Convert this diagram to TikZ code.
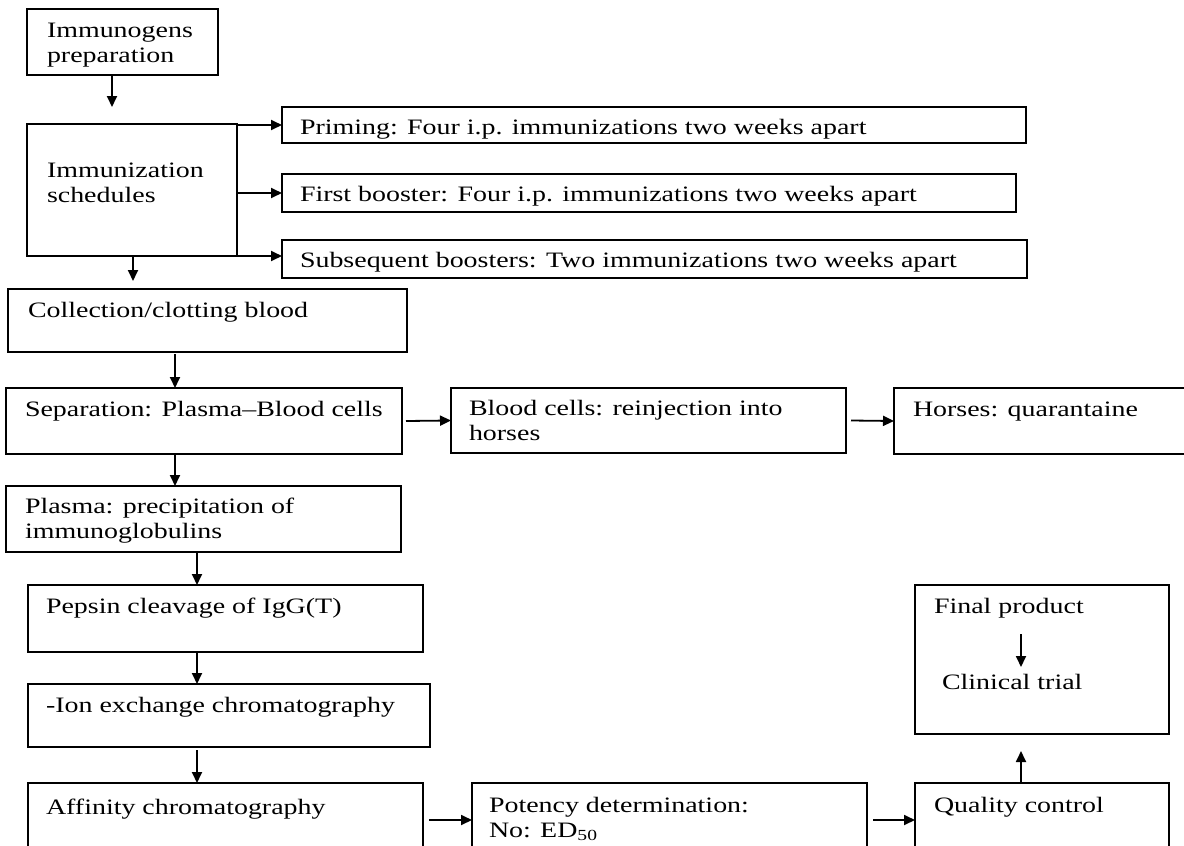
\documentclass[tikz,border=0pt]{standalone}
\usepackage{fontspec}
\setmainfont{Liberation Serif}[FakeStretch=1.27]
\usetikzlibrary{arrows.meta}
\tikzset{
  box/.style={draw, line width=1.8pt, inner sep=0pt, outer sep=0pt, anchor=north west},
  txt/.style={inner sep=0pt, outer sep=0pt, anchor=base west},
  arr/.style={line width=1.8pt, -{Triangle[length=11pt,width=10pt]}},
}
\newcommand{\twoline}[2]{\begin{tabular}[t]{@{}l@{}}#1\\#2\end{tabular}}
\begin{document}
\begin{tikzpicture}[x=1pt,y=-1pt,font=\fontsize{22}{25.3}\selectfont]
\useasboundingbox (0,0) rectangle (1184,846);
\clip (0,0) rectangle (1184,846);
% boxes
\node[box, minimum width=191, minimum height=66] (imm) at (27,9) {};
\node[box, minimum width=210, minimum height=132] (sched) at (27,124) {};
\node[box, minimum width=744, minimum height=36] (prim) at (282,107) {};
\node[box, minimum width=734, minimum height=38] (fb) at (282,174) {};
\node[box, minimum width=745, minimum height=38] (sub) at (282,240) {};
\node[box, minimum width=399, minimum height=63] (coll) at (8,289) {};
\node[box, minimum width=396, minimum height=66] (sep) at (6,388) {};
\node[box, minimum width=395, minimum height=65] (blood) at (451,388) {};
\node[box, minimum width=310, minimum height=66] (horses) at (894,388) {};
\node[box, minimum width=395, minimum height=66] (plasma) at (6,486) {};
\node[box, minimum width=395, minimum height=67] (pep) at (28,585) {};
\node[box, minimum width=402, minimum height=63] (ion) at (28,684) {};
\node[box, minimum width=395, minimum height=74] (aff) at (28,783) {};
\node[box, minimum width=395, minimum height=74] (pot) at (472,783) {};
\node[box, minimum width=254, minimum height=74] (qc) at (915,783) {};
\node[box, minimum width=254, minimum height=149] (fin) at (915,585) {};
% texts
\node[txt] (immt) at (47,37) {\twoline{Immunogens}{preparation}};
\node[txt] (schedt) at (47,177) {\twoline{Immunization}{schedules}};
\node[txt] (primt) at (300,134) {Priming: Four i.p. immunizations two weeks apart};
\node[txt] (fbt) at (300,201) {First booster: Four i.p. immunizations two weeks apart};
\node[txt] (subt) at (300,267) {Subsequent boosters: Two immunizations two weeks apart};
\node[txt] (collt) at (28,317) {Collection/clotting blood};
\node[txt] (sept) at (25,416) {Separation: Plasma–Blood cells};
\node[txt] (bloodt) at (469,415) {\twoline{Blood cells: reinjection into}{horses}};
\node[txt] (horsest) at (913,416) {Horses: quarantaine};
\node[txt] (plasmat) at (25,513) {\twoline{Plasma: precipitation of}{immunoglobulins}};
\node[txt] (pept) at (46,613) {Pepsin cleavage of IgG(T)};
\node[txt] (iont) at (46,712) {-Ion exchange chromatography};
\node[txt] (afft) at (46,814) {Affinity chromatography};
\node[txt] (pott) at (489,812) {\twoline{Potency determination:}{No: ED\textsubscript{50}}};
\node[txt] (qct) at (934,812) {Quality control};
\node[txt] (fint) at (934,613) {Final product};
\node[txt] (clint) at (942,689) {Clinical trial};
% connector coordinates
\coordinate (c1) at (112,107);
\coordinate (c2) at (133,281);
\coordinate (c3) at (175,0);
\coordinate (c4) at (197,0);
\coordinate (c5) at (1021,751);
\coordinate (c6) at (1021,634);
\coordinate (c7) at (1021,667);
% connectors
\draw[arr] (imm.south -| c1) -- (c1);
\draw[arr] (sched.east |- prim.west) -- (prim.west);
\draw[arr] (sched.east |- fb.west) -- (fb.west);
\draw[arr] (sched.south east) -- (sched.south east -| sub.west);
\draw[arr] (sched.south -| c2) -- (c2);
\draw[arr] ([yshift=-2pt]coll.south -| c3) -- (sep.north -| c3);
\draw[arr] ([xshift=4pt]sep.east) -- (blood.west);
\draw[arr] ([xshift=5pt]blood.east) -- (horses.west);
\draw[arr] (sep.south -| c3) -- (plasma.north -| c3);
\draw[arr] (plasma.south -| c4) -- (pep.north -| c4);
\draw[arr] (pep.south -| c4) -- (ion.north -| c4);
\draw[arr] ([yshift=-3pt]ion.south -| c4) -- (aff.north -| c4);
\draw[arr] ([xshift=6pt]aff.east) -- (pot.west);
\draw[arr] ([xshift=6pt]pot.east) -- (qc.west);
\draw[arr] (qc.north -| c5) -- (c5);
\draw[arr] (c6) -- (c7);
\end{tikzpicture}
\end{document}
